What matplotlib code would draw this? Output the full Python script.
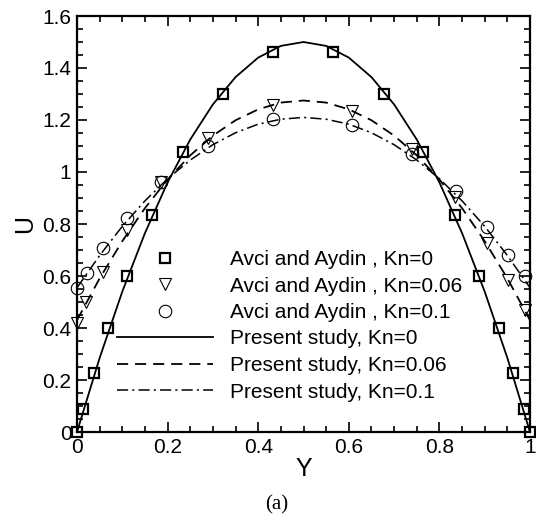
import matplotlib
matplotlib.use("Agg")
import matplotlib.pyplot as plt
from matplotlib.ticker import MultipleLocator, FormatStrFormatter

plt.rcParams["font.family"] = ["Liberation Sans", "DejaVu Sans"]
plt.rcParams["lines.scale_dashes"] = False

# Avci and Aydin (symbols)
y_kn0 = [0.0, 0.013, 0.038, 0.068, 0.11, 0.165, 0.233, 0.323, 0.433,
         0.565, 0.677, 0.764, 0.835, 0.888, 0.932, 0.963, 0.987, 1.0]
u_kn0 = [0.0, 0.09, 0.227, 0.40, 0.60, 0.835, 1.077, 1.30, 1.46,
         1.46, 1.30, 1.077, 0.835, 0.60, 0.40, 0.227, 0.09, 0.0]

y_kn006 = [0.0, 0.02, 0.058, 0.11, 0.185, 0.29, 0.433, 0.607, 0.74,
           0.835, 0.905, 0.951, 0.989]
u_kn006 = [0.42, 0.50, 0.615, 0.777, 0.96, 1.13, 1.258, 1.235, 1.09,
           0.905, 0.727, 0.585, 0.47]

y_kn01 = [0.0, 0.022, 0.057, 0.11, 0.185, 0.29, 0.433, 0.607, 0.74,
          0.837, 0.905, 0.951, 0.989]
u_kn01 = [0.555, 0.61, 0.707, 0.823, 0.963, 1.10, 1.204, 1.18, 1.07,
          0.927, 0.79, 0.68, 0.60]

# Present study (lines)
y_line = [0.0, 0.05, 0.1, 0.15, 0.2, 0.25, 0.3, 0.35, 0.4, 0.45, 0.5,
          0.55, 0.6, 0.65, 0.7, 0.75, 0.8, 0.85, 0.9, 0.95, 1.0]
u_line0 = [0.0, 0.285, 0.54, 0.765, 0.96, 1.125, 1.26, 1.365, 1.44, 1.485, 1.5,
           1.485, 1.44, 1.365, 1.26, 1.125, 0.96, 0.765, 0.54, 0.285, 0.0]
u_line006 = [0.43, 0.591, 0.734, 0.861, 0.971, 1.064, 1.14, 1.199, 1.241, 1.267, 1.275,
             1.267, 1.241, 1.199, 1.14, 1.064, 0.971, 0.861, 0.734, 0.591, 0.43]
u_line01 = [0.555, 0.679, 0.791, 0.889, 0.974, 1.046, 1.105, 1.151, 1.184, 1.203, 1.21,
            1.203, 1.184, 1.151, 1.105, 1.046, 0.974, 0.889, 0.791, 0.679, 0.555]

fig = plt.figure(figsize=(5.36, 5.17), dpi=100)
ax = fig.add_axes([77 / 536, 1 - 432 / 517, 453 / 536, 416 / 517])

ax.plot(y_kn0, u_kn0, ls="none", marker="s", ms=7, mfc="none", mec="black",
        mew=1.6, label="Avci and Aydin , Kn=0", clip_on=False, zorder=3)
ax.plot(y_kn006, u_kn006, ls="none", marker="v", ms=8, mfc="none", mec="black",
        mew=0.8, label="Avci and Aydin , Kn=0.06", clip_on=False, zorder=3)
ax.plot(y_kn01, u_kn01, ls="none", marker="o", ms=9, mfc="none", mec="black",
        mew=0.8, label="Avci and Aydin , Kn=0.1", clip_on=False, zorder=3)

ax.plot(y_line, u_line0, color="black", lw=1.3, label="Present study, Kn=0")
ax.plot(y_line, u_line006, color="black", lw=1.3, dashes=(8, 5),
        label="Present study, Kn=0.06")
ax.plot(y_line, u_line01, color="black", lw=1.1, dashes=(8, 3, 1.5, 3),
        label="Present study, Kn=0.1")

ax.set_xlim(0, 1)
ax.set_ylim(0, 1.6)
ax.xaxis.set_major_locator(MultipleLocator(0.2))
ax.xaxis.set_minor_locator(MultipleLocator(0.05))
ax.yaxis.set_major_locator(MultipleLocator(0.2))
ax.yaxis.set_minor_locator(MultipleLocator(0.05))
ax.xaxis.set_major_formatter(FormatStrFormatter("%g"))
ax.yaxis.set_major_formatter(FormatStrFormatter("%g"))
ax.tick_params(which="both", direction="in", top=True, right=True,
               labelsize=15, width=1.2)
ax.tick_params(which="major", length=7, pad=4)
ax.tick_params(which="minor", length=4)
for s in ax.spines.values():
    s.set_linewidth(1.6)

ax.set_xlabel("Y", fontsize=18, labelpad=0)
ax.set_ylabel("U", fontsize=18, labelpad=4)

ax.legend(loc="upper left", bbox_to_anchor=(40 / 453, 1 - 234 / 416),
          frameon=False, fontsize=15, numpoints=1, handlelength=4.6,
          handletextpad=0.8, labelspacing=0.36, borderpad=0, borderaxespad=0)

fig.text(277 / 536, 1 - 505 / 517, "(a)", ha="center", va="center",
         fontsize=15, family="Liberation Serif")

fig.savefig("out.png", dpi=100)
